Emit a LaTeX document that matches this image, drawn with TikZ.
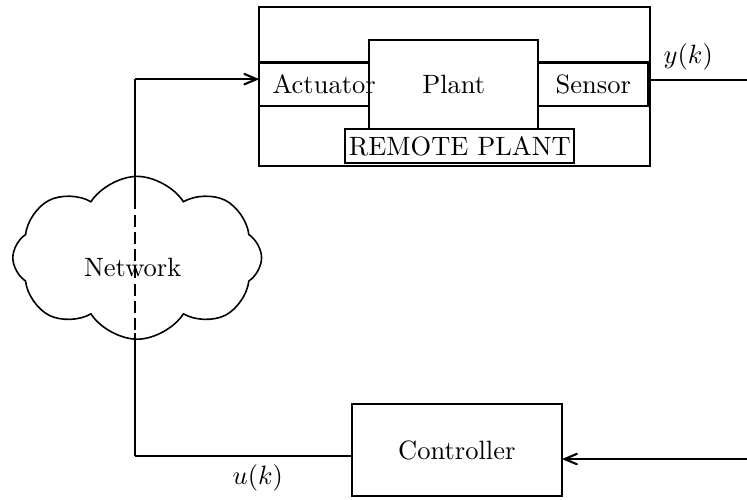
\documentclass[tikz,border=0pt]{standalone}
\usepackage{tikz}
\usetikzlibrary{arrows,positioning,shapes.symbols}

\begin{document}
\begin{tikzpicture}[>=angle 45, thick,
                block/.style={rectangle,draw,outer sep=0pt}]

      \useasboundingbox (0,0) rectangle (9.91,-6.62);

      % remote plant
      \node[block, minimum width=5.19cm, minimum height=2.11cm] (remote) at (6.03,-1.15) {};
      \node[block, minimum width=2.24cm, minimum height=1.18cm] (plant) at (6.02,-1.12) {Plant};
      \node[block, minimum height=0.58cm, inner xsep=0pt] (act) [left=0pt of plant] {\makebox[1.46cm][l]{\hspace{5pt}Actuator}};
      \node[block, minimum width=1.46cm, minimum height=0.58cm] (sens) [right=0pt of plant] {Sensor};
      \node[block, minimum width=3.04cm, minimum height=0.45cm, inner sep=0pt] (rplabel) at (6.10,-1.94) {REMOTE PLANT};

      % network and controller
      \node[cloud, draw, cloud puffs=8, cloud puff arc=115, aspect=1.5,
            minimum width=3.3cm, minimum height=2.16cm, semithick] (net) at (1.82,-3.42) {};
      \node (nettext) at (1.76,-3.55) {Network};
      \node[block, minimum width=2.79cm, minimum height=1.22cm] (ctrl) at (6.06,-5.97) {Controller};

      \coordinate (fbtop) at (1.79,-1.05);
      \coordinate (fbin) at (1.79,-2.62);
      \coordinate (fbout) at (1.79,-4.42);
      \coordinate (fbbot) at (1.79,-6.05);
      \coordinate (yend) at (9.91,-1.06);
      \coordinate (cin) at (9.91,-6.09);

      \draw[->] (fbtop) -- (fbtop -| act.west);
      \draw (fbtop) -- (fbin);
      \draw[dash pattern=on 4.5pt off 2pt] (fbin) -- (fbout);
      \draw (fbout) -- (fbbot);
      \draw (fbbot) -- (fbbot -| ctrl.west);
      \draw (yend -| sens.east) -- (yend);
      \draw[->] (cin) -- (cin -| ctrl.east);

      \node (ylabel) at (9.13,-0.76) {$y(k)$};
      \node (ulabel) at (3.42,-6.34) {$u(k)$};
  \end{tikzpicture}
\end{document}
